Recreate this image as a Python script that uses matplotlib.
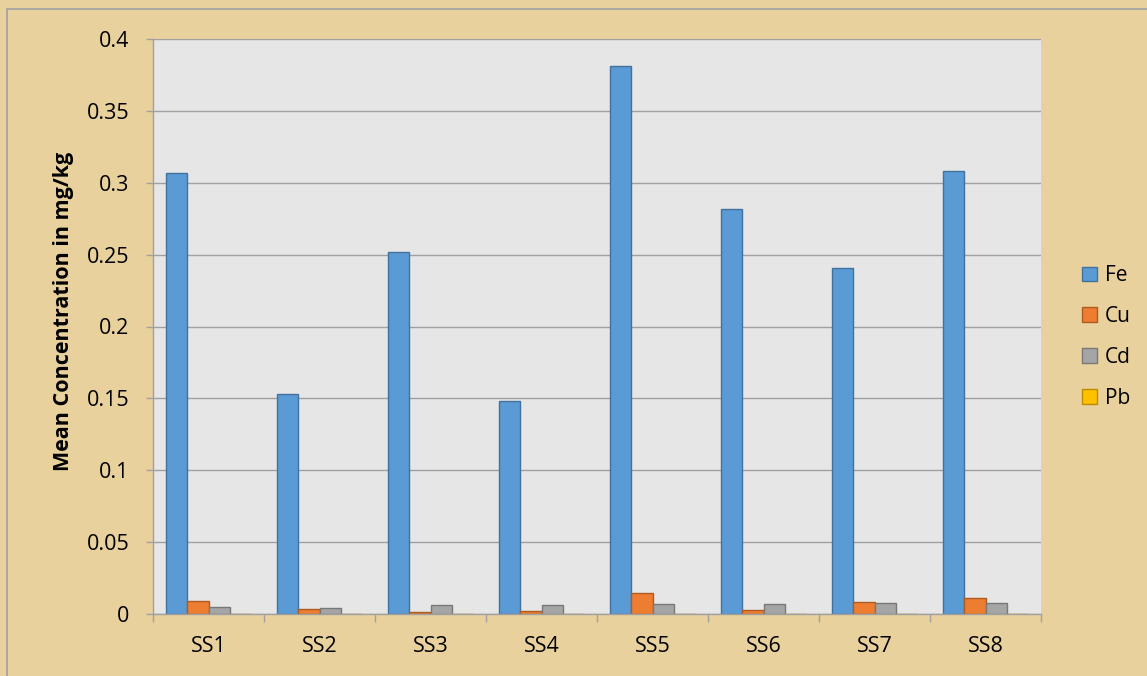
import numpy as np
import matplotlib.pyplot as plt
from matplotlib.patches import Rectangle

sites = ["SS1", "SS2", "SS3", "SS4", "SS5", "SS6", "SS7", "SS8"]
fe = [0.307, 0.153, 0.252, 0.148, 0.381, 0.282, 0.241, 0.308]
cu = [0.009, 0.0033, 0.0012, 0.0019, 0.0144, 0.0028, 0.0081, 0.0109]
cd = [0.0047, 0.0042, 0.006, 0.006, 0.0072, 0.0067, 0.0079, 0.0077]
pb = [0, 0, 0, 0, 0, 0, 0, 0]

plt.rcParams['font.family'] = ['Open Sans', 'DejaVu Sans']

fig = plt.figure(figsize=(11.47, 6.76), dpi=100)
fig.patch.set_facecolor('#E9D19E')
# thin gray frame on the left and top edges
fig.add_artist(Rectangle((7 / 1147, -0.1), 1.2, (676 - 9) / 676 + 0.1,
                         transform=fig.transFigure, fill=False,
                         edgecolor='#A0A0A0', linewidth=1.2))

ax = fig.add_axes([153 / 1147, 1 - 614 / 676, 888 / 1147, 575 / 676])
ax.set_facecolor('#E6E6E6')

x = np.arange(len(sites))
w = 0.19
series = [("Fe", fe, '#5B9BD5', '#41719C'),
          ("Cu", cu, '#ED7D31', '#AE5A21'),
          ("Cd", cd, '#A5A5A5', '#787878'),
          ("Pb", pb, '#FFC000', '#BC8C00')]
for i, (name, vals, fc, ec) in enumerate(series):
    ax.bar(x + (i - 1.5) * w, vals, w, color=fc, edgecolor=ec,
           linewidth=1.0, label=name, zorder=3 if name != "Pb" else 1)

ax.set_xlim(-0.5, len(sites) - 0.5)
ax.set_ylim(0, 0.4)
ax.set_yticks(np.arange(0, 0.401, 0.05))
ax.set_yticklabels(["0", "0.05", "0.1", "0.15", "0.2", "0.25", "0.3", "0.35", "0.4"])
ax.grid(axis='y', color='#A0A0A0', linewidth=1.0, zorder=0)
ax.set_axisbelow(True)

ax.set_xticks(x)
ax.set_xticklabels(sites)
ax.set_xticks(np.arange(-0.5, len(sites)), minor=True)
ax.tick_params(axis='x', which='major', length=0, pad=16, labelsize=15.5)
ax.tick_params(axis='x', which='minor', length=6, color='#A0A0A0', width=1.0)
ax.tick_params(axis='y', length=5, color='#A0A0A0', width=1.0, labelsize=15.5, pad=12)

for s in ['top', 'right']:
    ax.spines[s].set_visible(False)
for s in ['left', 'bottom']:
    ax.spines[s].set_color('#A0A0A0')
    ax.spines[s].set_linewidth(1.0)
    ax.spines[s].set_zorder(4)

ax.set_ylabel("Mean Concentration in mg/kg", fontsize=15.5, fontweight='bold',
              labelpad=9, y=0.527)

leg = ax.legend(loc='center left', bbox_to_anchor=(1.025, 0.482), frameon=False,
                fontsize=15, handlelength=0.7, handleheight=0.7,
                handletextpad=0.4, labelspacing=0.95)

fig.savefig("out.png", dpi=100, facecolor=fig.get_facecolor())
